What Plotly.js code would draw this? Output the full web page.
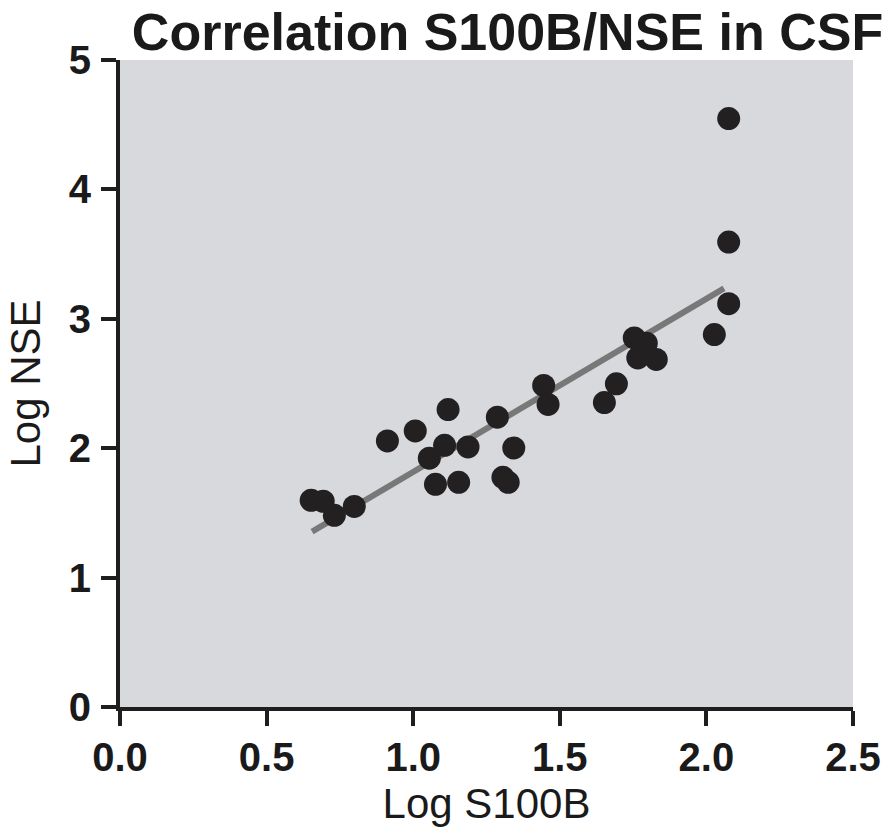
<!DOCTYPE html>
<html>
<head>
<meta charset="utf-8">
<script src="https://cdn.plot.ly/plotly-3.0.1.min.js"></script>
<style>html,body{margin:0;padding:0;background:#fff;}#chart{width:891px;height:835px;}</style>
</head>
<body>
<div id="chart"></div>
<script>
const logS100B = [0.652, 0.693, 0.731, 0.799, 0.912, 1.007, 1.055, 1.076, 1.107, 1.119, 1.155, 1.187,
                  1.287, 1.306, 1.324, 1.343, 1.445, 1.460, 1.652, 1.693, 1.754, 1.766, 1.795, 1.829,
                  2.027, 2.076, 2.076, 2.076];
const logNSE = [1.597, 1.590, 1.481, 1.550, 2.056, 2.133, 1.923, 1.721, 2.022, 2.299, 1.736, 2.010,
                2.240, 1.775, 1.736, 2.002, 2.485, 2.338, 2.353, 2.498, 2.852, 2.698, 2.812, 2.686,
                2.878, 3.117, 3.593, 4.547];
const fitX = [0.655, 2.060];
const fitY = [1.355, 3.235];
const xTicks = [0, 0.5, 1.0, 1.5, 2.0, 2.5];
const xTickText = ['0.0', '0.5', '1.0', '1.5', '2.0', '2.5'];
const yTicks = [0, 1, 2, 3, 4, 5];
const yTickText = ['0', '1', '2', '3', '4', '5'];

const axisColor = '#1e1e1e';
const fontFam = 'Liberation Sans, Arial, Helvetica, sans-serif';

const traces = [
  {x: fitX, y: fitY, mode: 'lines', type: 'scatter',
   line: {color: '#787878', width: 6}, hoverinfo: 'skip', showlegend: false},
  {x: logS100B, y: logNSE, mode: 'markers', type: 'scatter',
   marker: {color: '#222021', size: 23, line: {width: 0}}, showlegend: false, cliponaxis: false}
];

const layout = {
  width: 891, height: 835,
  margin: {l: 120, r: 38, t: 60, b: 128},
  paper_bgcolor: '#ffffff',
  plot_bgcolor: '#d8d9dd',
  title: {text: '<b>Correlation S100B/NSE in CSF</b>',
          font: {family: fontFam, size: 52, color: '#1a1a1a'},
          x: 0.5696, xref: 'container', xanchor: 'center',
          y: 0.984, yref: 'container', yanchor: 'top'},
  xaxis: {range: [0, 2.5], tickvals: xTicks, ticktext: xTickText,
          showgrid: false, zeroline: false, showline: true, linecolor: axisColor, linewidth: 4,
          ticks: 'outside', ticklen: 15, tickwidth: 4, tickcolor: axisColor,
          ticklabelstandoff: -3,
          tickfont: {family: fontFam, size: 40, color: '#1a1a1a', weight: 'bold'},
          title: {text: 'Log S100B', font: {family: fontFam, size: 42, color: '#1a1a1a'}, standoff: 12}},
  yaxis: {range: [0, 5], tickvals: yTicks, ticktext: yTickText,
          showgrid: false, zeroline: false, showline: true, linecolor: axisColor, linewidth: 4,
          ticks: 'outside', ticklen: 15, tickwidth: 4, tickcolor: axisColor,
          ticklabelstandoff: 2,
          tickfont: {family: fontFam, size: 40, color: '#1a1a1a', weight: 'bold'},
          title: {text: 'Log NSE', font: {family: fontFam, size: 42, color: '#1a1a1a'}, standoff: 16}}
};

Plotly.newPlot('chart', traces, layout, {displayModeBar: false, staticPlot: true});
</script>
</body>
</html>
